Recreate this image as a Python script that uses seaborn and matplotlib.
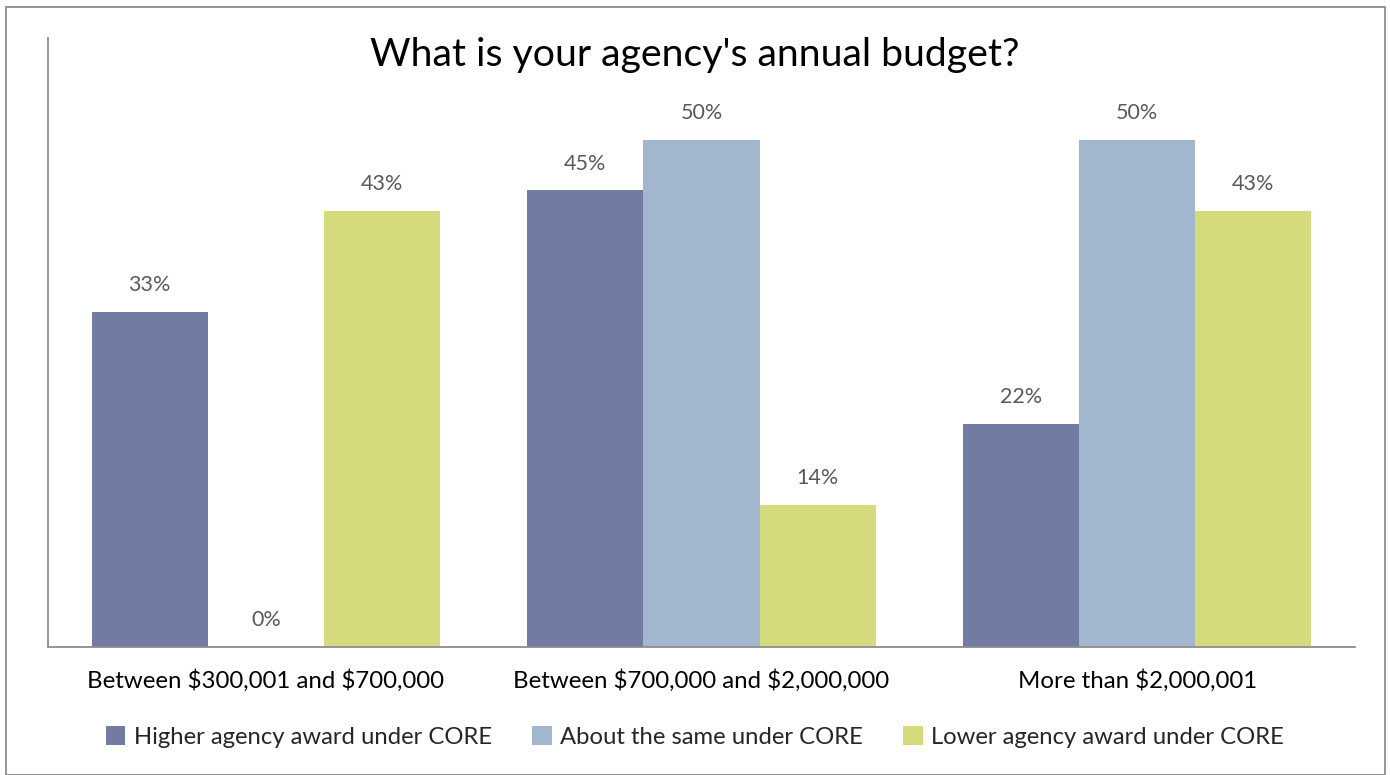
import matplotlib
matplotlib.use("Agg")
import matplotlib.pyplot as plt
import seaborn as sns
import pandas as pd
from matplotlib.patches import Rectangle

categories = ["Between $300,001 and $700,000", "Between $700,000 and $2,000,000", "More than $2,000,001"]
series_names = ["Higher agency award under CORE", "About the same under CORE", "Lower agency award under CORE"]
higher = [33, 45, 22]
same = [0, 50, 50]
lower = [43, 14, 43]
colors = ["#727CA3", "#A2B7CE", "#D5DB7C"]

rows = []
for name, vals in zip(series_names, [higher, same, lower]):
    for c, v in zip(categories, vals):
        rows.append({"category": c, "series": name, "value": v})
df = pd.DataFrame(rows)

sns.set_theme(style="white")
plt.rcParams["font.family"] = ["Lato", "DejaVu Sans"]

fig = plt.figure(figsize=(13.9, 7.75), dpi=100)
ax = fig.add_axes([48/1390, 1-647/775, (1355-48)/1390, (647-38)/775])

sns.barplot(data=df, x="category", y="value", hue="series", order=categories,
            hue_order=series_names, palette=colors, saturation=1, width=0.8,
            edgecolor="none", linewidth=0, ax=ax, legend=False)

for cont in ax.containers:
    ax.bar_label(cont, fmt="%d%%", padding=12, fontsize=15.5, color="#595959")

ax.set_ylim(0, 60)
ax.set_xlim(-0.5, 2.5)
ax.set_xlabel("")
ax.set_ylabel("")
ax.set_yticks([])
ax.set_xticks(range(len(categories)), labels=[c.replace("$", r"\$") for c in categories])
ax.tick_params(axis="x", length=0, labelsize=17.3, pad=16, colors="black")
for s in ["top", "right"]:
    ax.spines[s].set_visible(False)
for s in ["left", "bottom"]:
    ax.spines[s].set_color("#8C8C8C")
    ax.spines[s].set_linewidth(1.3)

fig.text(0.5, 1-55/775, "What is your agency's annual budget?", ha="center", va="center",
         fontsize=28.3, color="black")

handles = [Rectangle((0, 0), 1, 1, facecolor=c, edgecolor="none") for c in colors]
fig.legend(handles, series_names, loc="center", bbox_to_anchor=(0.5, 1-737/775), ncol=3,
           frameon=False, fontsize=17.2, handlelength=0.8, handleheight=0.8,
           handletextpad=0.35, columnspacing=1.7)

fig.patches.append(Rectangle((6/1390, 0), (1385-6)/1390, 1-7/775, transform=fig.transFigure,
                             fill=False, edgecolor="#8C8C8C", linewidth=1.3))

fig.savefig("out.png", dpi=100, facecolor="white")
